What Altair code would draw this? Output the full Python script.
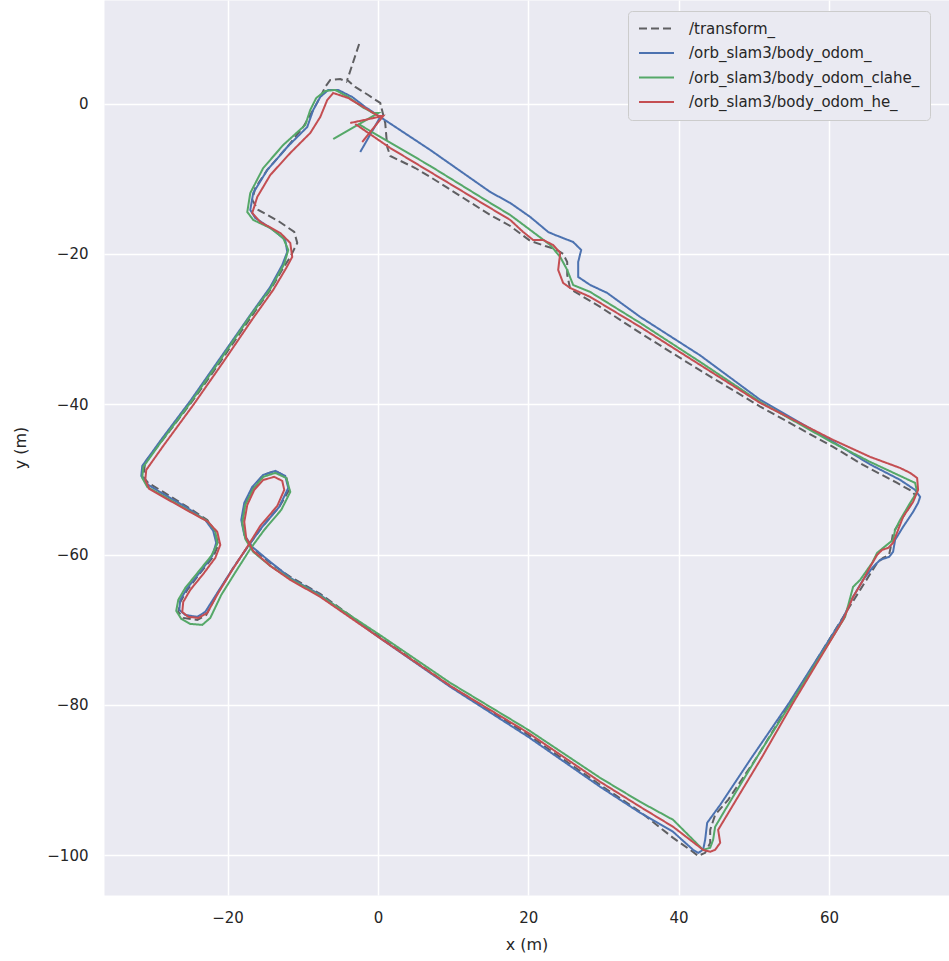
import altair as alt
import pandas as pd

# Ground-truth trajectory (/transform_), metres
TRANSFORM_X = [-2.5, -4.08, -3.02, -1.29, 0.31, 0.97, 1.24, 1.64, 4.96, 6.96, 10.95, 14.94, 17.6, 20.26,
               22.25, 23.58, 24.64, 25.18, 25.18, 25.58, 26.91, 29.57, 34.89, 42.87, 50.85, 60.55, 64.54,
               69.07, 71.19, 71.46, 71.06, 69.86, 68.53, 68.27, 68.0, 67.2, 66.41, 64.15, 62.15, 54.84,
               50.45, 46.59, 44.86, 44.2, 44.2, 43.53, 42.6, 41.54, 39.27, 34.89, 29.57, 19.99, 9.62, 0.04,
               -7.67, -11.66, -14.32, -16.72, -17.65, -18.05, -17.65, -16.59, -15.26, -13.66, -12.2,
               -11.8, -13.13, -15.39, -17.25, -19.25, -21.37, -22.84, -24.03, -25.9, -26.56, -26.29,
               -25.36, -23.63, -21.91, -21.24, -21.64, -22.7, -25.36, -28.56, -30.55, -31.22, -30.95,
               -28.95, -24.96, -20.97, -16.98, -14.32, -12.6, -11.66, -10.73, -11.13, -13.26, -15.92,
               -16.72, -16.32, -14.72, -12.06, -9.94, -8.61, -7.67, -7.01, -6.34, -5.01, -4.08]
TRANSFORM_Y = [7.93, 3.14, 2.21, 1.14, 0.08, -2.58, -5.77, -6.97, -8.57, -9.76, -12.29, -14.82, -16.28,
               -18.27, -18.94, -19.34, -20.0, -21.07, -22.8, -24.66, -25.46, -27.05, -30.51, -35.5,
               -40.3, -45.67, -48.07, -50.46, -51.66, -52.19, -53.12, -54.98, -57.11, -58.71, -60.04,
               -60.44, -61.1, -64.69, -67.88, -79.72, -86.9, -92.62, -94.62, -96.61, -98.34, -99.67,
               -100.07, -99.27, -97.68, -94.22, -90.63, -83.98, -77.46, -70.81, -65.22, -62.96, -61.1,
               -59.11, -57.64, -55.78, -53.12, -50.99, -49.4, -48.86, -49.66, -51.39, -53.65, -56.31,
               -58.84, -61.77, -65.22, -68.02, -68.68, -68.42, -67.62, -66.29, -64.69, -62.43, -60.3,
               -58.71, -56.98, -55.38, -53.65, -51.66, -50.46, -49.66, -47.67, -45.14, -39.95, -34.37,
               -28.52, -24.79, -21.87, -20.4, -18.54, -17.08, -15.61, -14.15, -12.82, -11.23, -8.83,
               -5.77, -3.11, -0.85, 0.88, 2.21, 3.14, 3.27, 2.87]

# /orb_slam3/body_odom_
ODOM_X = [0.31, 6.96, 14.94, 17.6, 20.26, 22.65, 23.58, 25.97, 27.04, 26.64, 26.64, 28.24, 30.5, 34.89,
          42.87, 50.85, 60.55, 65.48, 69.47, 71.46, 72.13, 71.86, 71.19, 69.86, 68.8, 68.53, 68.0,
          66.81, 65.87, 64.54, 63.21, 61.88, 54.7, 49.78, 45.53, 43.8, 43.53, 43.26, 42.6, 41.93, 39.27,
          34.89, 29.57, 19.99, 9.62, 0.04, -7.67, -11.66, -14.32, -16.72, -17.78, -18.18, -17.78,
          -16.72, -15.26, -13.66, -12.33, -11.93, -13.13, -15.39, -17.25, -19.25, -21.37, -22.97,
          -24.03, -25.63, -26.43, -26.29, -25.36, -23.63, -22.04, -21.51, -21.91, -22.97, -25.36,
          -28.56, -30.55, -31.48, -31.35, -28.95, -24.96, -20.97, -16.98, -14.32, -12.73, -12.06,
          -12.33, -13.93, -16.32, -16.98, -16.59, -14.72, -12.06, -9.4, -8.61, -7.67, -6.61, -5.28,
          -3.42, -1.69, 0.31, -2.35]
ODOM_Y = [-1.78, -6.17, -11.76, -13.22, -15.08, -17.08, -17.48, -18.41, -19.47, -21.07, -23.06, -24.13,
          -25.19, -28.38, -33.5, -39.4, -45.0, -48.0, -50.06, -51.39, -52.32, -53.12, -54.32, -56.31,
          -58.04, -59.64, -60.3, -60.7, -61.63, -63.36, -65.62, -68.42, -79.72, -86.9, -93.29, -95.68,
          -97.94, -99.27, -99.67, -99.27, -96.88, -94.35, -90.89, -84.24, -77.59, -70.94, -65.36, -63.1,
          -60.97, -58.97, -57.38, -55.38, -53.12, -50.99, -49.4, -48.86, -49.53, -51.13, -53.65,
          -56.31, -58.84, -61.77, -65.09, -67.62, -68.28, -68.02, -67.35, -66.02, -64.43, -62.3,
          -60.17, -58.44, -56.84, -55.38, -53.79, -51.92, -50.73, -49.53, -48.2, -44.87, -39.55,
          -33.84, -28.12, -24.39, -21.47, -19.74, -18.14, -16.81, -15.22, -14.15, -11.89, -8.83,
          -5.77, -3.11, -0.85, 0.88, 1.81, 1.81, 0.88, -0.45, -1.78, -6.44]

# /orb_slam3/body_odom_clahe_
CLAHE_X = [-2.62, 6.96, 14.94, 17.6, 20.26, 22.92, 24.25, 25.18, 25.97, 28.24, 34.89, 42.87, 50.85,
           60.55, 65.48, 69.47, 71.46, 71.73, 70.8, 69.47, 68.8, 68.53, 67.2, 66.41, 65.74, 64.15,
           63.21, 62.15, 54.97, 50.45, 46.19, 44.86, 44.59, 44.2, 43.26, 39.27, 34.89, 29.57, 19.99,
           9.62, 0.04, -7.67, -11.66, -14.32, -16.59, -17.65, -18.05, -17.65, -16.59, -15.26, -13.66,
           -12.2, -11.66, -12.86, -15.12, -16.98, -18.85, -20.84, -22.3, -23.37, -24.96, -26.16,
           -26.83, -26.56, -25.63, -23.9, -22.17, -21.37, -21.64, -22.7, -25.36, -28.56, -30.68,
           -31.35, -31.22, -28.95, -24.96, -20.97, -16.98, -14.32, -12.46, -11.93, -12.6, -14.32,
           -16.59, -17.38, -16.98, -15.26, -12.6, -9.67, -9.0, -8.21, -7.01, -5.68, -3.95, -2.09,
           -0.63, 0.04, -5.95]
CLAHE_Y = [-2.71, -8.3, -13.22, -14.82, -16.81, -18.81, -20.4, -22.13, -24.13, -25.06, -29.18, -34.37,
           -39.69, -45.14, -47.67, -49.53, -50.46, -51.66, -53.12, -55.38, -56.71, -58.04, -59.11,
           -59.77, -61.1, -63.36, -64.29, -68.28, -79.72, -86.9, -93.95, -96.21, -97.94, -99.0,
           -99.27, -95.28, -92.89, -89.7, -83.31, -77.06, -70.54, -65.49, -63.23, -61.5, -59.64,
           -57.91, -55.78, -53.39, -51.26, -49.66, -49.13, -49.8, -51.66, -54.05, -56.71, -59.24,
           -62.17, -65.36, -68.42, -69.35, -69.22, -68.55, -67.48, -66.02, -64.43, -62.3, -60.17,
           -58.57, -56.84, -55.51, -54.05, -52.19, -51.0, -49.8, -48.34, -45.14, -39.82, -34.1,
           -28.25, -24.66, -21.33, -19.47, -17.88, -16.55, -15.48, -14.42, -11.89, -8.57, -5.51,
           -2.85, -0.85, 0.74, 1.68, 1.81, 0.88, -0.45, -1.25, -1.25, -4.71]

# /orb_slam3/body_odom_he_
HE_X = [-3.02, 1.64, 6.96, 14.94, 17.6, 19.32, 20.65, 21.98, 23.31, 24.25, 23.98, 24.64, 25.58, 28.24,
        34.89, 42.87, 50.85, 60.55, 65.48, 69.47, 70.8, 71.73, 71.86, 71.19, 69.86, 69.2, 68.53, 67.87,
        67.07, 66.41, 65.48, 64.41, 63.21, 61.88, 55.23, 51.11, 46.86, 45.26, 45.53, 44.86, 44.2,
        43.26, 39.27, 34.89, 29.57, 19.99, 9.62, 0.04, -7.67, -11.66, -14.32, -16.59, -17.52, -17.78,
        -17.38, -16.45, -15.26, -13.79, -12.73, -12.46, -13.39, -15.65, -17.38, -19.38, -21.24,
        -22.7, -23.9, -25.23, -26.03, -25.9, -24.96, -23.23, -21.64, -20.97, -21.37, -22.57,
        -25.23, -28.56, -30.42, -30.95, -30.82, -28.56, -24.56, -20.57, -16.59, -13.93, -12.2,
        -11.4, -11.66, -12.99, -15.65, -16.72, -16.05, -14.32, -11.66, -9.0, -7.67, -6.74, -5.95,
        -3.95, -1.69, 0.04, 0.7, -2.09, 0.7, -3.68]
HE_Y = [-2.71, -5.91, -9.1, -13.89, -15.48, -17.08, -18.14, -18.14, -18.81, -19.87, -22.13, -23.86,
        -24.53, -25.72, -29.71, -34.77, -39.82, -44.74, -47.0, -48.47, -49.13, -49.8, -51.39, -52.99,
        -54.98, -56.71, -58.44, -59.11, -59.37, -60.04, -61.63, -63.63, -65.62, -68.68, -79.72,
        -86.9, -93.95, -96.61, -98.34, -99.27, -99.53, -99.27, -96.21, -93.55, -90.23, -83.71,
        -77.46, -70.94, -65.62, -63.36, -61.5, -59.5, -57.78, -55.65, -53.39, -51.39, -50.06,
        -49.66, -50.19, -51.39, -53.52, -56.18, -58.97, -62.03, -65.09, -67.75, -68.42, -68.28,
        -67.62, -66.29, -64.69, -62.57, -60.44, -58.71, -56.98, -55.65, -54.19, -52.32, -51.26,
        -50.06, -48.73, -45.54, -40.09, -34.37, -28.52, -24.79, -21.87, -20.4, -18.54, -17.21,
        -15.75, -14.55, -12.42, -9.5, -6.57, -3.91, -1.78, 0.48, 1.41, 0.74, -0.59, -1.65, -1.65,
        -5.11, -1.65, -2.58]

SERIES = ["/transform_", "/orb_slam3/body_odom_", "/orb_slam3/body_odom_clahe_",
          "/orb_slam3/body_odom_he_"]
COLORS = ["#5f5f62", "#4c72b0", "#55a868", "#c44e52"]
DASHES = [[8, 4], [1, 0], [1, 0], [1, 0]]

X_TICKS = [-20, 0, 20, 40, 60]
Y_TICKS = [0, -20, -40, -60, -80, -100]
X_DOMAIN = [-36.44, 75.97]
Y_DOMAIN = [-105.28, 13.78]

TRACKS = [(TRANSFORM_X, TRANSFORM_Y), (ODOM_X, ODOM_Y), (CLAHE_X, CLAHE_Y), (HE_X, HE_Y)]

rows = []
for name, (xs, ys) in zip(SERIES, TRACKS):
    for i, (x, y) in enumerate(zip(xs, ys)):
        rows.append({"series": name, "i": i, "x": x, "y": y})
df = pd.DataFrame(rows)

legend = alt.Legend(
    title=None,
    orient="none",
    legendX=524,
    legendY=11,
    fillColor="#eaeaf2",
    strokeColor="#cccccc",
    cornerRadius=4,
    padding=10,
    labelFont="DejaVu Sans",
    labelFontSize=15,
    labelColor="#262626",
    labelOffset=14,
    labelLimit=400,
    symbolType="stroke",
    symbolSize=1225,
    symbolStrokeWidth=2,
    clipHeight=15,
    rowPadding=8.5,
)

base = alt.Chart(df).encode(
    x=alt.X("x:Q", scale=alt.Scale(domain=X_DOMAIN, nice=False, zero=False),
            axis=alt.Axis(values=X_TICKS, title="x (m)", labelPadding=15, titlePadding=11)),
    y=alt.Y("y:Q", scale=alt.Scale(domain=Y_DOMAIN, nice=False, zero=False),
            axis=alt.Axis(values=Y_TICKS, title="y (m)", labelPadding=16, titlePadding=18)),
    color=alt.Color("series:N", scale=alt.Scale(domain=SERIES, range=COLORS), legend=legend),
    strokeDash=alt.StrokeDash("series:N", scale=alt.Scale(domain=SERIES, range=DASHES), legend=legend),
    order=alt.Order("i:Q"),
)

# draw ground truth first, estimates on top
layers = [base.transform_filter(alt.datum.series == name).mark_line(strokeWidth=2)
          for name in SERIES]

chart = alt.layer(*layers).properties(
    width=845,
    height=895,
    autosize=alt.AutoSizeParams(type="none"),
    padding={"left": 104, "top": 0, "right": 0, "bottom": 66},
    background="white",
).configure_view(
    fill="#eaeaf2", stroke="transparent"
).configure_axis(
    domain=False,
    ticks=False,
    grid=True,
    gridColor="white",
    gridWidth=1.5,
    labelFont="DejaVu Sans",
    labelFontSize=15,
    labelColor="#262626",
    titleFont="DejaVu Sans",
    titleFontSize=16,
    titleFontWeight="normal",
    titleColor="#262626",
)

chart.save("out.html", embed_options={"renderer": "svg", "actions": False})
